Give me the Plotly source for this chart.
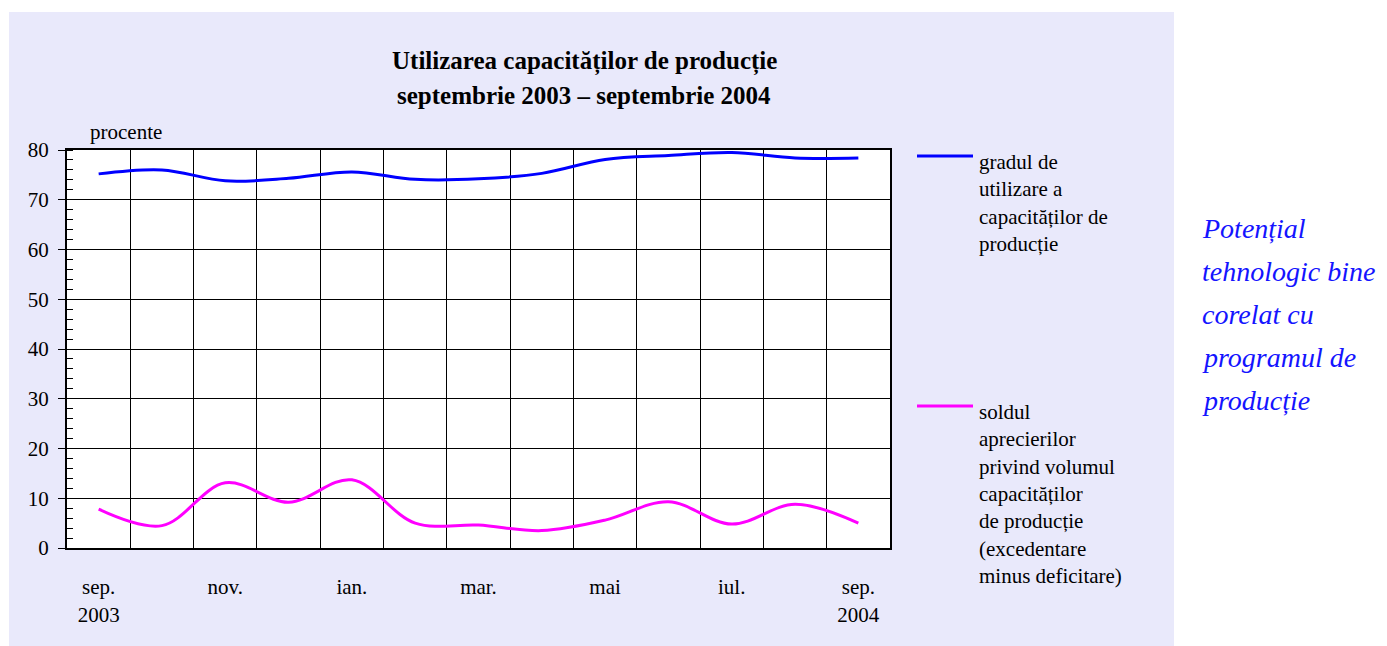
import plotly.graph_objects as go

# ---- data ----
months = ["sep. 2003", "oct.", "nov.", "dec.", "ian.", "feb.", "mar.", "apr.",
          "mai", "iun.", "iul.", "aug.", "sep. 2004"]
utilizare = [75.2, 76.0, 73.8, 74.3, 75.6, 74.1, 74.2, 75.3, 78.1, 78.9, 79.5, 78.4, 78.4]
sold = [7.8, 4.5, 13.1, 9.2, 13.7, 5.0, 4.6, 3.5, 5.6, 9.3, 4.8, 8.8, 5.0]

tick_idx = [0, 2, 4, 6, 8, 10, 12]
tick_labels = ["sep.<br>2003", "nov.", "ian.", "mar.", "mai", "iul.", "sep.<br>2004"]

legend_blue = ["gradul de", "utilizare a", "capacităților de", "producție"]
legend_mag = ["soldul", "aprecierilor", "privind volumul", "capacităților",
              "de producție", "(excedentare", "minus deficitare)"]
side_text = ["Potențial", "tehnologic bine", "corelat cu", "programul de", "producție"]
title_lines = ["Utilizarea capacităților de producție", "septembrie 2003 – septembrie 2004"]

# ---- layout geometry (page pixels; page body has an 8px margin) ----
OFF = 8
W, H = 1387 - OFF, 646 - OFF
L, R, T, B = 67, 890, 150, 548          # plot area in page pixels
pw, ph = R - L, B - T


def px(x):
    return (x - L) / pw


def py(y):
    return (B - y) / ph


FONT = "Liberation Serif, Times New Roman, serif"
x = list(range(len(months)))

fig = go.Figure()
fig.add_trace(go.Scatter(x=x, y=utilizare, mode="lines", name=" ".join(legend_blue),
                         line=dict(color="#0000ff", width=3, shape="spline", smoothing=1),
                         showlegend=False))
fig.add_trace(go.Scatter(x=x, y=sold, mode="lines", name=" ".join(legend_mag),
                         line=dict(color="#ff00ff", width=3, shape="spline", smoothing=1),
                         showlegend=False))

shapes = [
    dict(type="rect", xref="paper", yref="paper", layer="below",
         x0=px(9), x1=px(1174), y0=py(660), y1=py(12),
         fillcolor="#e9e9fb", line=dict(width=0)),
    dict(type="rect", xref="paper", yref="paper", layer="below",
         x0=0, x1=1, y0=0, y1=1, fillcolor="white", line=dict(width=0)),
    dict(type="line", xref="paper", yref="paper", x0=px(917), x1=px(973),
         y0=py(156), y1=py(156), line=dict(color="#0000ff", width=3)),
    dict(type="line", xref="paper", yref="paper", x0=px(917), x1=px(973),
         y0=py(406), y1=py(406), line=dict(color="#ff00ff", width=3)),
]

annotations = [
    dict(text="procente", xref="paper", yref="paper", x=px(88), y=py(132),
         xanchor="left", yanchor="middle", showarrow=False,
         font=dict(family=FONT, size=21, color="black")),
    dict(text="<br>".join(legend_blue), xref="paper", yref="paper", x=px(977), y=py(203),
         xanchor="left", yanchor="middle", align="left", showarrow=False,
         font=dict(family=FONT, size=21, color="black")),
    dict(text="<br>".join(legend_mag), xref="paper", yref="paper", x=px(977), y=py(494),
         xanchor="left", yanchor="middle", align="left", showarrow=False,
         font=dict(family=FONT, size=21, color="black")),
]
for i, t in enumerate(title_lines):
    annotations.append(dict(text="<b>" + t + "</b>", xref="paper", yref="paper",
                            x=px(584), y=py(62 + 34 * i), xanchor="center", yanchor="middle",
                            showarrow=False, font=dict(family=FONT, size=25, color="black")))
for i, t in enumerate(side_text):
    annotations.append(dict(text="<i>" + t + "</i>", xref="paper", yref="paper",
                            x=px(1200), y=py(228 + 43 * i), xanchor="left", yanchor="middle",
                            showarrow=False, font=dict(family=FONT, size=28, color="#1414ff")))

fig.update_layout(
    width=W, height=H,
    margin=dict(l=L - OFF, r=W - (R - OFF), t=T - OFF, b=H - (B - OFF), pad=0),
    paper_bgcolor="white", plot_bgcolor="white",
    font=dict(family=FONT, size=21, color="black"),
    shapes=shapes, annotations=annotations,
    showlegend=False,
)
fig.update_xaxes(
    range=[-0.5, len(months) - 0.5], tickmode="array", tickvals=tick_idx, ticktext=tick_labels,
    showgrid=False, ticks="", ticklabelstandoff=19,
    minor=dict(tick0=-0.5, dtick=1, showgrid=True, gridcolor="black", gridwidth=1, ticks=""),
    showline=True, linecolor="black", linewidth=2, mirror=True, zeroline=False,
    tickfont=dict(family=FONT, size=21, color="black"),
)
fig.update_yaxes(
    range=[0, 80], dtick=10, tick0=0, showgrid=True, gridcolor="black", gridwidth=1,
    ticks="outside", ticklen=7, tickcolor="black", tickwidth=1, ticklabelstandoff=5,
    minor=dict(dtick=2, ticks="inside", ticklen=6, tickcolor="black", showgrid=False),
    showline=True, linecolor="black", linewidth=2, mirror=True, zeroline=False,
    tickfont=dict(family=FONT, size=21, color="black"),
)

fig.write_html("out.html")
